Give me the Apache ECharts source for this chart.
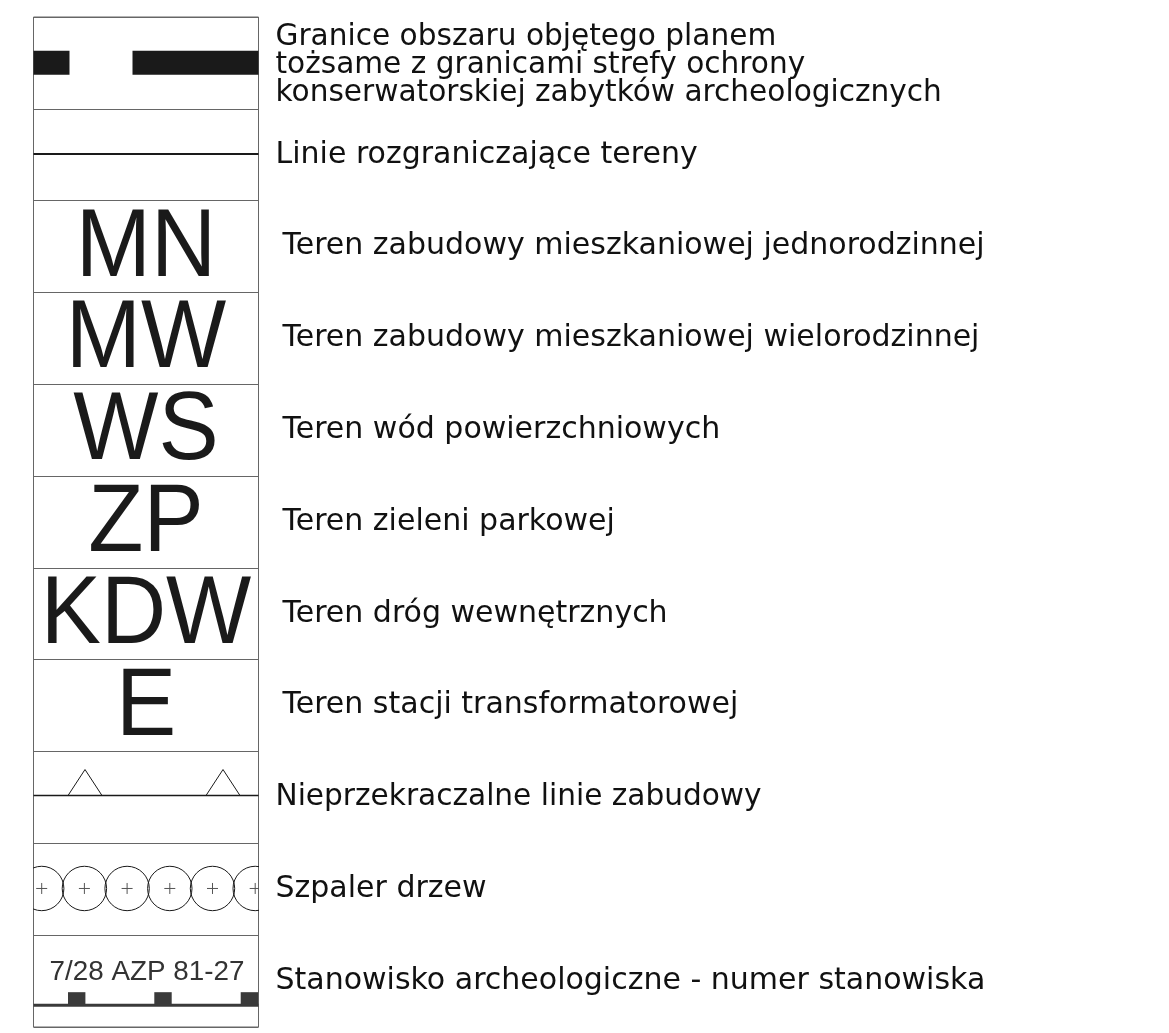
<!DOCTYPE html>
<html>
<head>
<meta charset="utf-8">
<script src="https://cdn.jsdelivr.net/npm/echarts@6/dist/echarts.min.js"></script>
<style>
html,body{margin:0;padding:0;background:#fff;}
#chart{width:1169px;height:1033px;}
</style>
</head>
<body>
<div id="chart"></div>
<script>
// ---- legend content ----
const rowLabels = [
  'Granice obszaru objętego planem\ntożsame z granicami strefy ochrony\nkonserwatorskiej zabytków archeologicznych',
  'Linie rozgraniczające tereny',
  'Teren zabudowy mieszkaniowej jednorodzinnej',
  'Teren zabudowy mieszkaniowej wielorodzinnej',
  'Teren wód powierzchniowych',
  'Teren zieleni parkowej',
  'Teren dróg wewnętrznych',
  'Teren stacji transformatorowej',
  'Nieprzekraczalne linie zabudowy',
  'Szpaler drzew',
  'Stanowisko archeologiczne - numer stanowiska'
];
const rowSymbols = ['boundary', 'division', 'code', 'code', 'code', 'code', 'code', 'code', 'buildingLine', 'trees', 'site'];
const rowCodes = ['', '', 'MN', 'MW', 'WS', 'ZP', 'KDW', 'E', '', '', '7/28 AZP 81-27'];
const rowLabelStyles = ['g', 'w', 'c', 'c', 'c', 'c', 'c', 'c', 't', 'w', 'w'];

const INK = '#1a1a1a';

function renderItem(params, api) {
  const idx = api.value(1);
  const cs = params.coordSys;
  const left = cs.x, right = cs.x + cs.width, W = cs.width;
  const cy = api.coord([0.5, idx])[1];
  const H = api.size([0, 1])[1];
  const top = cy - H / 2;
  const kind = rowSymbols[idx];
  const children = [];
  if (kind === 'boundary') {
    children.push({type: 'rect', shape: {x: left, y: top + 33.7, width: 36, height: 24}, style: {fill: INK}});
    children.push({type: 'rect', shape: {x: left + 99, y: top + 33.7, width: W - 99, height: 24}, style: {fill: INK}});
  } else if (kind === 'division') {
    children.push({type: 'line', shape: {x1: left, y1: cy - 0.7, x2: right, y2: cy - 0.7}, style: {stroke: INK, lineWidth: 2}});
  } else if (kind === 'code') {
    children.push({type: 'text', x: (left + right) / 2, y: cy + 2.5, scaleX: 0.94,
      style: {text: rowCodes[idx], fontFamily: 'Liberation Sans', fontSize: 96, fill: INK, align: 'center', verticalAlign: 'middle'}});
  } else if (kind === 'buildingLine') {
    const by = top + 44;
    children.push({type: 'line', shape: {x1: left, y1: by, x2: right, y2: by}, style: {stroke: INK, lineWidth: 1.5}});
    [51.5, 189.5].forEach(function (tx) {
      children.push({type: 'polyline', shape: {points: [[left + tx - 17, by], [left + tx, by - 26], [left + tx + 17, by]]},
        style: {stroke: INK, lineWidth: 1, fill: null}});
    });
  } else if (kind === 'trees') {
    const ty = cy - 0.8;
    for (let k = 0; k < 6; k++) {
      const tx = left + 8.2 + 42.7 * k;
      children.push({type: 'circle', shape: {cx: tx, cy: ty, r: 22.2}, style: {stroke: INK, lineWidth: 1, fill: null}});
      children.push({type: 'line', shape: {x1: tx - 5.5, y1: ty, x2: tx + 5.5, y2: ty}, style: {stroke: '#555', lineWidth: 1}});
      children.push({type: 'line', shape: {x1: tx, y1: ty - 5.5, x2: tx, y2: ty + 5.5}, style: {stroke: '#555', lineWidth: 1}});
    }
  } else if (kind === 'site') {
    children.push({type: 'text', x: (left + right) / 2 + 1, y: top + 37, scaleX: 1.03,
      style: {text: rowCodes[idx], fontFamily: 'Liberation Sans', fontSize: 27, fill: '#333', align: 'center', verticalAlign: 'middle'}});
    const ly = top + 70;
    children.push({type: 'line', shape: {x1: left, y1: ly, x2: right, y2: ly}, style: {stroke: '#3a3a3a', lineWidth: 3}});
    [34.5, 120.8, 207.2].forEach(function (sx) {
      children.push({type: 'rect', shape: {x: left + sx, y: ly - 13, width: 17.4, height: 13}, style: {fill: '#3a3a3a'}});
    });
  }
  return {type: 'group', children: children};
}

const labelFont = {fontFamily: 'DejaVu Sans', color: '#111'};
const chart = echarts.init(document.getElementById('chart'), null, {renderer: 'canvas'});
chart.setOption({
  backgroundColor: '#ffffff',
  animation: false,
  grid: {left: 33.5, top: 17, width: 225, height: 1010, show: true, borderColor: '#666', borderWidth: 1, backgroundColor: 'transparent', containLabel: false},
  xAxis: {type: 'value', min: 0, max: 1, show: false},
  yAxis: {
    type: 'category',
    data: rowLabels,
    inverse: true,
    position: 'right',
    axisLine: {show: false},
    axisTick: {show: false},
    splitLine: {show: true, interval: 0, lineStyle: {color: '#666', width: 1}},
    axisLabel: {
      interval: 0,
      margin: 17,
      align: 'left',
      verticalAlign: 'middle',
      formatter: function (value, index) {
        const tag = rowLabelStyles[index];
        const lines = value.split('\n').map(function (l) { return '{' + tag + '|' + l + '}'; });
        if (lines.length > 1) lines.unshift('{e| }');
        return lines.join('\n');
      },
      rich: {
        e: {fontSize: 1, lineHeight: 5},
        g: Object.assign({fontSize: 29.6, lineHeight: 28.3}, labelFont),
        t: Object.assign({fontSize: 29.6, lineHeight: 32}, labelFont),
        w: Object.assign({fontSize: 30, lineHeight: 32}, labelFont),
        c: Object.assign({fontSize: 30, lineHeight: 32, padding: [0, 0, 0, 7]}, labelFont)
      }
    }
  },
  series: [{
    type: 'custom',
    clip: true,
    renderItem: renderItem,
    encode: {x: 0, y: 1},
    data: rowSymbols.map(function (s, i) { return [0.5, i]; })
  }]
});
</script>
</body>
</html>
